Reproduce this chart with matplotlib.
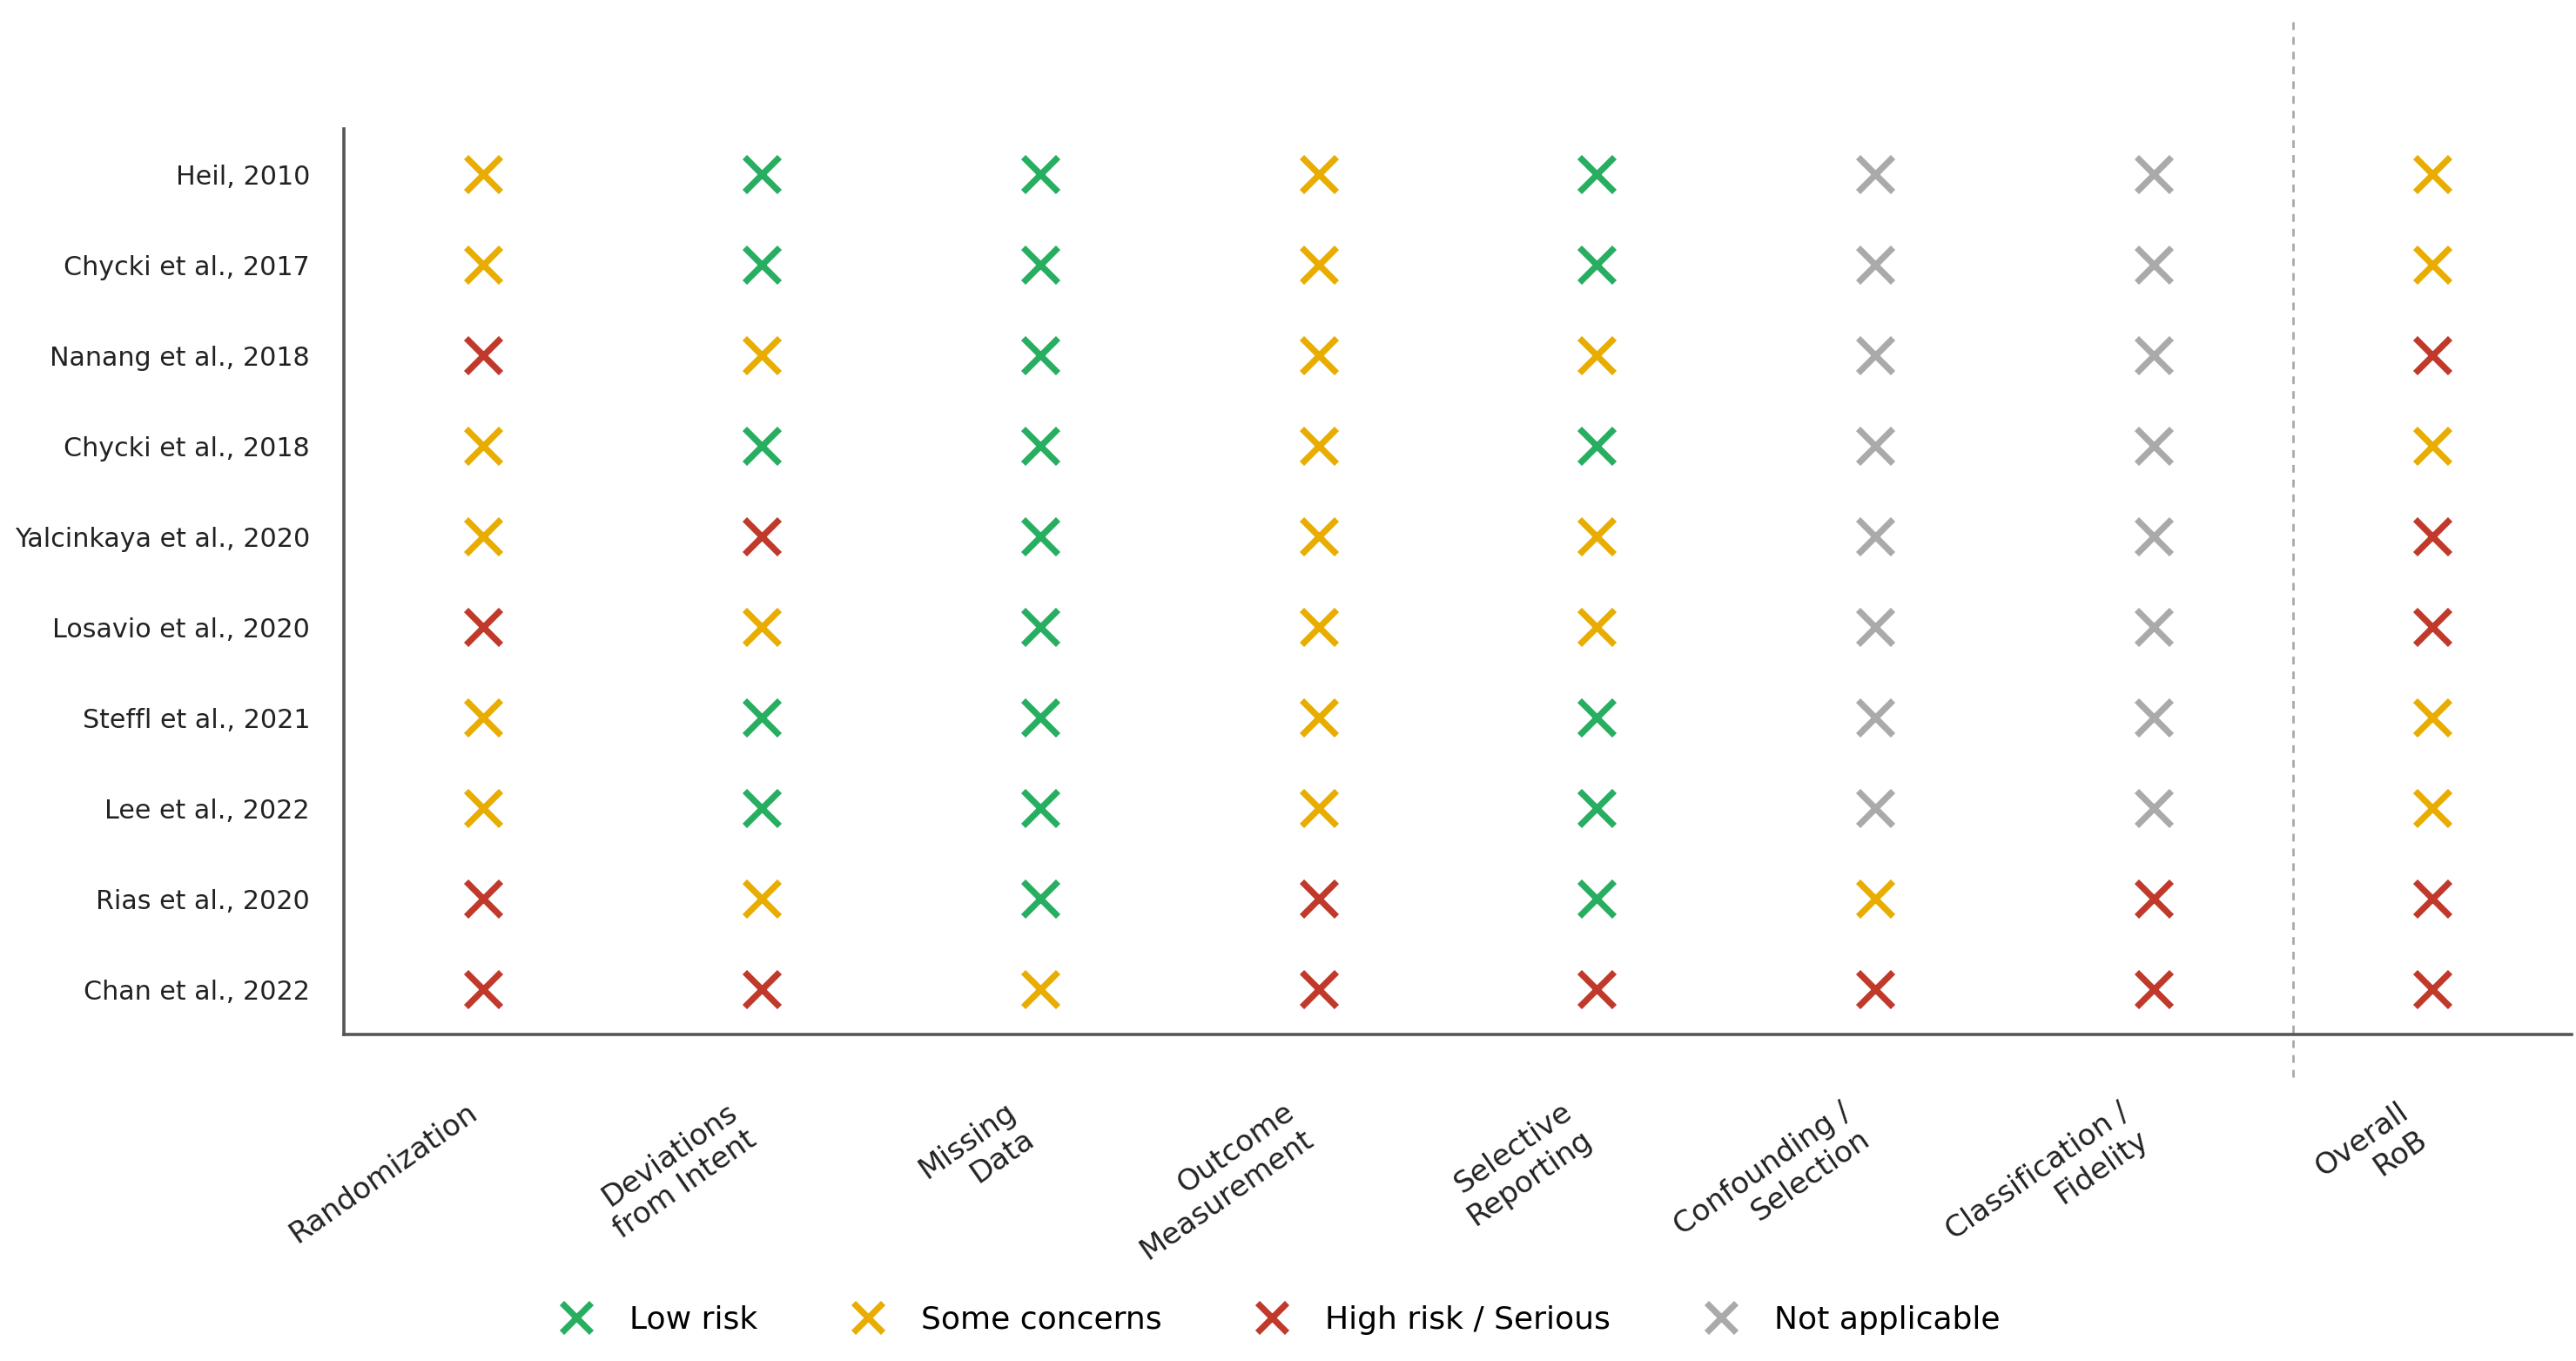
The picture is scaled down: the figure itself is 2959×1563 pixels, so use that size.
import matplotlib
matplotlib.use("Agg")
import matplotlib.pyplot as plt
from matplotlib.lines import Line2D

# studies (top to bottom)
studies = ["Heil, 2010", "Chycki et al., 2017", "Nanang et al., 2018",
           "Chycki et al., 2018", "Yalcinkaya et al., 2020", "Losavio et al., 2020",
           "Steffl et al., 2021", "Lee et al., 2022", "Rias et al., 2020",
           "Chan et al., 2022"]

domains = ["Randomization", "Deviations\nfrom Intent", "Missing\nData",
           "Outcome\nMeasurement", "Selective\nReporting", "Confounding /\nSelection",
           "Classification /\nFidelity", "Overall\nRoB"]

# L = low, S = some concerns, H = high/serious, N = not applicable
judgements = [
    "SLLSLNNS",
    "SLLSLNNS",
    "HSLSSNNH",
    "SLLSLNNS",
    "SHLSSNNH",
    "HSLSSNNH",
    "SLLSLNNS",
    "SLLSLNNS",
    "HSLHLSHH",
    "HHSHHHHH",
]

colores = {"L": "#27ae60", "S": "#e8ad00", "H": "#c0392b", "N": "#aaaaaa"}
nombres = {"L": "Low risk", "S": "Some concerns", "H": "High risk / Serious",
           "N": "Not applicable"}

fig = plt.figure(figsize=(2959 / 200, 1563 / 200), dpi=200)
ax = fig.add_axes([395 / 2959, 1 - 1188 / 1563, (2954 - 395) / 2959, (1188 - 148) / 1563])

for i, fila in enumerate(judgements):
    for j, c in enumerate(fila):
        ax.plot(j, i, marker="x", ms=14.5, mew=2.6, color=colores[c], linestyle="none")

ax.set_xlim(-0.5, len(domains) - 0.5)
ax.set_ylim(len(studies) - 0.5, -0.5)

ax.set_yticks(range(len(studies)))
ax.set_yticklabels(studies, fontsize=10.85, color="#222222")
ax.set_xticks(range(len(domains)))
ax.set_xticklabels(domains, fontsize=12.3, rotation=35, ha="right", color="#222222")
ax.tick_params(axis="y", length=0, pad=14)
ax.tick_params(axis="x", length=0, pad=26)

for s in ["top", "right"]:
    ax.spines[s].set_visible(False)
for s in ["left", "bottom"]:
    ax.spines[s].set_color("#555555")
    ax.spines[s].set_linewidth(1.3)

# separator before overall column
ax.axvline(6.5, ymin=-0.047, ymax=1.118, color="#aaaaaa", lw=1.0,
           linestyle=(0, (3.2, 2.9)), clip_on=False)

handles = [Line2D([], [], marker="x", ms=12.5, mew=2.6, color=colores[k], linestyle="none")
           for k in "LSHN"]
fig.legend(handles, [nombres[k] for k in "LSHN"], loc="center",
           bbox_to_anchor=(0.497, 1 - 1516 / 1563), ncol=4, frameon=False,
           fontsize=13, handlelength=1.0, handletextpad=1.2, columnspacing=3.0)

fig.savefig("out.png", dpi=200)
